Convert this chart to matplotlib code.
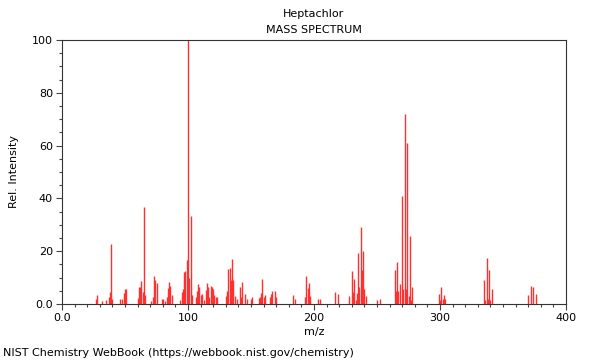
import matplotlib

matplotlib.use("Agg")
import matplotlib.pyplot as plt
from matplotlib.ticker import MultipleLocator, FuncFormatter

# m/z values and relative intensities
mz = [
    27, 28, 32, 35, 37, 38, 39, 40, 46, 48, 49, 50, 51,
    60, 61, 62, 63, 64, 65, 66, 71, 72, 73, 74, 75, 79, 80,
    82, 83, 84, 85, 86, 87, 94, 95, 96, 97, 98, 99, 100, 101, 102, 103,
    106, 107, 108, 109, 110, 111, 113, 114, 115, 116, 117, 118, 119, 120,
    121, 122, 123, 130, 131, 132, 133, 134, 135, 136, 137, 139, 141, 142,
    143, 145, 147, 150, 151, 156, 157, 158, 159, 160, 161, 165, 166, 167,
    169, 170, 183, 185, 193, 194, 195, 196, 197, 203, 205, 217, 219,
    228, 230, 231, 232, 233, 234, 235, 236, 237, 238, 239, 240, 241,
    250, 252, 264, 265, 266, 267, 268, 270, 271, 272, 273, 274, 275, 276,
    277, 278, 299, 300, 301, 302, 303, 304, 335, 336, 337, 338, 339, 340,
    341, 370, 372, 374, 376,
]
intensity = [
    1.9, 3.4, 1.3, 1.5, 2.8, 4.7, 22.7, 1.9, 1.8, 1.8, 4.0, 5.8, 5.7,
    2.4, 6.6, 6.3, 8.6, 4.4, 36.9, 3.4, 1.0, 2.5, 10.6, 9.1, 7.8, 2.0, 2.0,
    1.3, 2.8, 6.0, 8.5, 6.8, 3.4, 1.5, 4.5, 5.5, 12.0, 12.4, 16.7, 100.0,
    10.0, 33.3, 3.4,
    2.8, 5.0, 7.4, 6.3, 3.4, 3.7, 1.5, 5.4, 8.0, 6.3, 2.5, 7.0, 6.3, 5.8,
    3.4, 2.5, 2.5, 3.0, 4.8, 13.2, 13.8, 9.1, 17.0, 9.0, 3.0, 1.8, 6.6, 2.8,
    8.5, 3.8, 2.0, 2.0, 2.8, 2.3, 2.8, 4.3, 9.6, 2.8, 3.4, 2.5, 3.7, 4.8,
    4.8, 2.5, 3.4, 1.8, 2.5, 10.6, 5.9, 8.0, 3.0, 2.0, 2.0, 4.4, 3.9,
    3.0, 12.6, 4.5, 9.5, 1.5, 4.0, 19.4, 6.4, 29.3, 13.0, 20.0, 5.5, 3.0,
    1.5, 2.0, 13.0, 5.0, 16.0, 5.0, 7.5, 41.0, 5.5, 72.0, 5.5, 61.0, 3.0,
    25.8, 1.5, 6.3, 3.8, 1.5, 6.4, 2.0, 3.5, 2.0, 9.0, 1.5, 17.3, 2.0,
    13.0, 1.5, 5.5, 3.4, 6.8, 6.4, 3.8,
]

compound = "Heptachlor"

plt.rcParams["font.family"] = "DejaVu Sans"
plt.rcParams["font.size"] = 8

fig = plt.figure(figsize=(6, 3.6), dpi=100)
ax = fig.add_axes([62 / 600, 1 - 304 / 360, 504 / 600, 264 / 360])

ax.vlines(mz, 0, intensity, colors="#ff3030", linewidth=1.0)

ax.set_xlim(0, 400)
ax.set_ylim(0, 100)
ax.xaxis.set_major_locator(MultipleLocator(100))
ax.xaxis.set_minor_locator(MultipleLocator(10))
ax.yaxis.set_major_locator(MultipleLocator(20))
ax.yaxis.set_minor_locator(MultipleLocator(5))
zero_fmt = FuncFormatter(lambda v, _: "0.0" if v == 0 else f"{v:.0f}")
ax.xaxis.set_major_formatter(zero_fmt)
ax.yaxis.set_major_formatter(zero_fmt)
ax.tick_params(which="major", length=4.5, width=0.8, color="#444444",
               labelsize=8, pad=2)
ax.tick_params(which="minor", length=2.5, width=0.8, color="#444444")
for s in ax.spines.values():
    s.set_color("#333333")
    s.set_linewidth(0.8)

ax.set_xlabel("m/z", fontsize=8, labelpad=3)
ax.set_ylabel("Rel. Intensity", fontsize=8, labelpad=9)

fig.text(314 / 600, 1 - 14 / 360, compound, ha="center", va="center",
         fontsize=8)
fig.text(314 / 600, 1 - 30 / 360, "MASS SPECTRUM", ha="center", va="center",
         fontsize=8)
fig.text(3 / 600, 1 - 353 / 360,
         "NIST Chemistry WebBook (https://webbook.nist.gov/chemistry)",
         ha="left", va="center", fontsize=8)

fig.savefig("out.png", dpi=100)
